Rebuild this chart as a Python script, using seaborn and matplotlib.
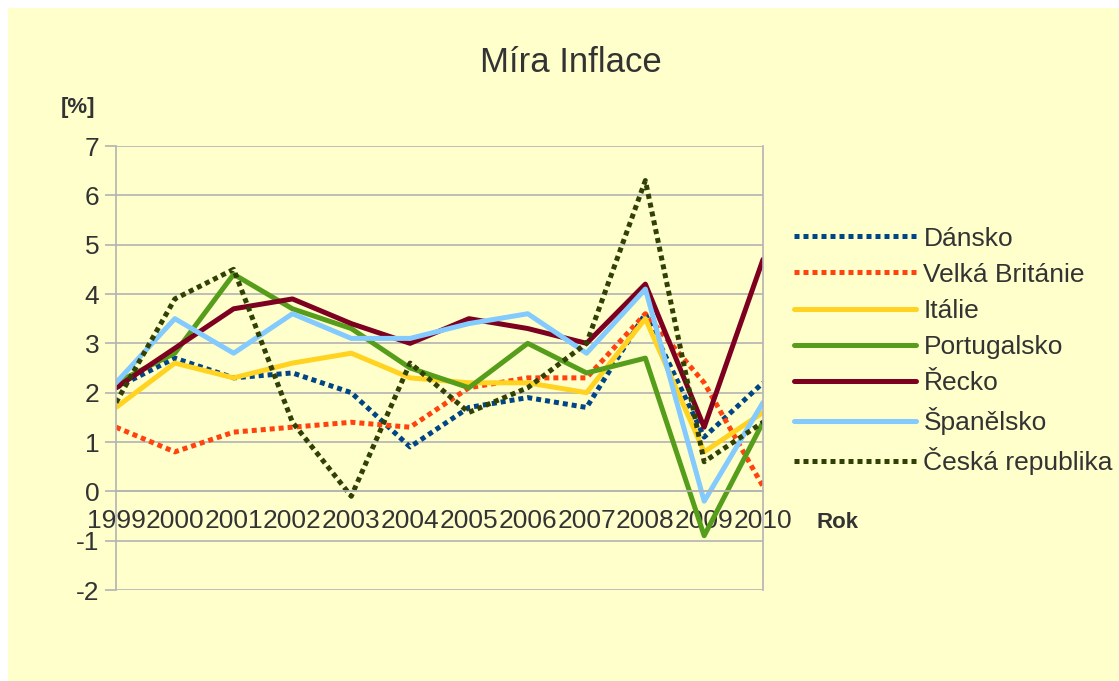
import pandas as pd
import numpy as np
import matplotlib.pyplot as plt
import seaborn as sns
import matplotlib.ticker as ticker
from matplotlib.patches import Rectangle

# data
years = list(range(1999, 2011))
countries = [
    "Dánsko",
    "Velká Británie",
    "Itálie",
    "Portugalsko",
    "Řecko",
    "Španělsko",
    "Česká republika",
]
dansko = [2.1, 2.7, 2.3, 2.4, 2.0, 0.9, 1.7, 1.9, 1.7, 3.6, 1.1, 2.2]
velka_britanie = [1.3, 0.8, 1.2, 1.3, 1.4, 1.3, 2.1, 2.3, 2.3, 3.6, 2.2, 0.1]
italie = [1.7, 2.6, 2.3, 2.6, 2.8, 2.3, 2.2, 2.2, 2.0, 3.5, 0.8, 1.6]
portugalsko = [2.2, 2.8, 4.4, 3.7, 3.3, 2.5, 2.1, 3.0, 2.4, 2.7, -0.9, 1.4]
recko = [2.1, 2.9, 3.7, 3.9, 3.4, 3.0, 3.5, 3.3, 3.0, 4.2, 1.3, 4.7]
spanelsko = [2.2, 3.5, 2.8, 3.6, 3.1, 3.1, 3.4, 3.6, 2.8, 4.1, -0.2, 1.8]
cesko = [1.8, 3.9, 4.5, 1.4, -0.1, 2.6, 1.6, 2.1, 3.0, 6.3, 0.6, 1.4]
series = [dansko, velka_britanie, italie, portugalsko, recko, spanelsko, cesko]

colors = ["#004586", "#ff420e", "#ffd320", "#579d1c", "#7e0021", "#83caff", "#314004"]
dotted = (1, 0.8)
dashes = [dotted, dotted, "", "", "", "", dotted]

df = pd.DataFrame(
    {
        "Rok": years * len(countries),
        "value": np.concatenate(series),
        "country": np.repeat(countries, len(years)),
    }
)

bg = "#ffffcc"
grid_c = "#b3b3b3"
text_c = "#333333"

sns.set_style("white")
plt.rcParams["font.family"] = ["Liberation Sans", "DejaVu Sans"]
plt.rcParams["axes.unicode_minus"] = False

fig = plt.figure(figsize=(11.19, 6.81), dpi=100, facecolor="white")
fig.patches.append(
    Rectangle((8 / 1119, 0), 1, 1 - 8 / 681, transform=fig.transFigure,
              facecolor=bg, edgecolor="none", zorder=-10)
)
ax = fig.add_axes([116 / 1119, 1 - 590 / 681, (763 - 116) / 1119, (590 - 146) / 681])
ax.set_facecolor(bg)

sns.lineplot(
    data=df, x="Rok", y="value", hue="country", style="country",
    palette=dict(zip(countries, colors)), dashes=dict(zip(countries, dashes)),
    linewidth=3.6, ax=ax, legend=True,
)

ax.set_xlim(1999, 2010)
ax.set_ylim(-2, 7)
ax.yaxis.set_major_locator(ticker.MultipleLocator(1))
ax.set_xticks(years)
ax.grid(axis="y", color=grid_c, linewidth=1.2, zorder=0)
ax.set_axisbelow(True)
for side in ["left", "right", "top", "bottom"]:
    ax.spines[side].set_color(grid_c)
    ax.spines[side].set_linewidth(1.2)
# category axis crosses at 0
ax.spines["bottom"].set_position(("data", 0))
ax.spines["top"].set_visible(False)
ax.tick_params(axis="x", direction="out", length=8.5, width=1.2, color=grid_c,
               pad=4, labelsize=19, labelcolor=text_c)
ax.tick_params(axis="y", direction="out", length=8, width=1.2, color=grid_c,
               pad=4, labelsize=19, labelcolor=text_c, left=True)
ax.set_xlabel("")
ax.set_ylabel("")

fig.text(571 / 1119, 1 - 62 / 681, "Míra Inflace", ha="center", va="center",
         fontsize=25, color=text_c)
fig.text(78 / 1119, 1 - 107 / 681, "[%]", ha="center", va="center",
         fontsize=16, fontweight="bold", color=text_c)
fig.text(838 / 1119, 1 - 523 / 681, "Rok", ha="center", va="center",
         fontsize=16, fontweight="bold", color=text_c)

sns.move_legend(
    ax, "center left", bbox_to_anchor=(781 / 1119, 1 - 351 / 681),
    bbox_transform=fig.transFigure, frameon=False, title=None,
    fontsize=19, handlelength=4.6, handletextpad=0.3, labelspacing=0.46,
    borderpad=0,
)
for t in ax.get_legend().get_texts():
    t.set_color(text_c)
for h in ax.get_legend().legend_handles:
    h.set_linewidth(3.6)

plt.savefig("out.png", dpi=100, facecolor="white")
